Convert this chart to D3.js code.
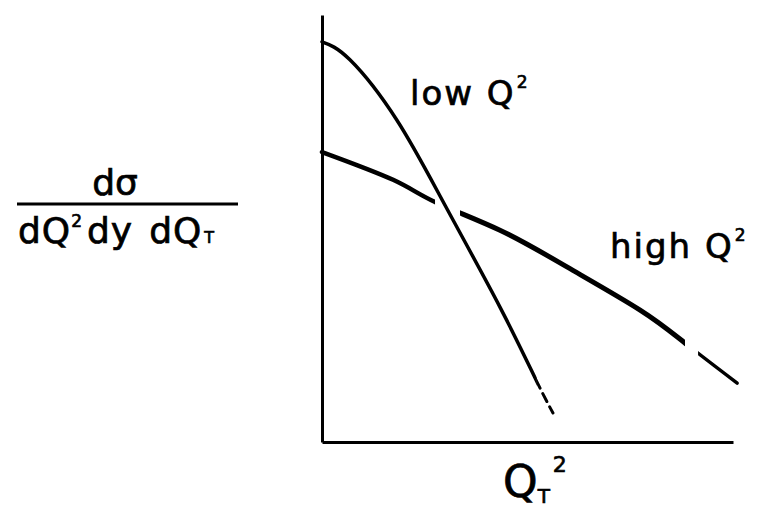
<!DOCTYPE html>
<html>
<head>
<meta charset="utf-8">
<script src="https://cdn.jsdelivr.net/npm/d3@7"></script>
<style>
  html, body { margin: 0; padding: 0; background: #fff; }
  svg text { font-family: "DejaVu Sans", sans-serif; fill: #000; stroke: #000; stroke-width: 0.7px; }
</style>
</head>
<body>
<svg id="chart" width="761" height="511"></svg>
<script>
// Sketch of the Q_T^2 distribution at low and high Q^2 (arbitrary units, 0..10 on both axes)
const lowCurve = [[0, 9.37], [0.68, 8.95], [1.82, 7.54], [2.99, 5.55], [4.33, 3.16], [5.23, 1.41], [5.62, 0.68]];
const highCurve = [[0, 6.79], [1.73, 6.14], [2.75, 5.62], [4.33, 4.96], [5.96, 4.10], [7.74, 3.09], [8.83, 2.32], [10.1, 1.38]];

// Pieces of each curve along the x range: [from, to, stroke width, dash]
const lowPieces = [[-0.2, 5.23, 3.5, null], [5.23, 5.8, 3, "9,6"]];
const highPieces = [[-0.2, 2.75, 4.5, null], [3.36, 8.83, 5, null], [9.15, 10.3, 3.5, null]];

const lowLabel = "low Q";
const highLabel = "high Q";
const xLabel = "Q";
const yNumerator = "dσ";

const svg = d3.select("#chart");
const x = d3.scaleLinear().domain([0, 10]).range([322, 733]);
const y = d3.scaleLinear().domain([0, 10]).range([442, 15]);

// Axes: plain lines, no ticks
const xAxis = d3.axisBottom(x).tickValues([]).tickSizeOuter(0);
const yAxis = d3.axisLeft(y).tickValues([]).tickSizeOuter(0);
svg.append("g").attr("transform", `translate(0,${y(0)})`).call(xAxis)
  .select(".domain").attr("stroke", "#000").attr("stroke-width", 3);
svg.append("g").attr("transform", `translate(${x(0)},0)`).call(yAxis)
  .select(".domain").attr("stroke", "#000").attr("stroke-width", 3);

const line = d3.line().x(d => x(d[0])).y(d => y(d[1])).curve(d3.curveNatural);
const defs = svg.append("defs");
let clipId = 0;

function drawPieces(data, pieces) {
  pieces.forEach(([from, to, width, dash]) => {
    const id = "piece" + (clipId++);
    defs.append("clipPath").attr("id", id).append("rect")
      .attr("x", x(from)).attr("width", x(to) - x(from))
      .attr("y", 0).attr("height", 511);
    svg.append("path").datum(data)
      .attr("clip-path", `url(#${id})`)
      .attr("d", line)
      .attr("fill", "none")
      .attr("stroke", "#000")
      .attr("stroke-width", width)
      .attr("stroke-linecap", "round")
      .attr("stroke-dasharray", dash);
  });
}

drawPieces(highCurve, highPieces);
drawPieces(lowCurve, lowPieces);

// Curve labels
function labelWithSup(px, py, main, sup, size) {
  const t = svg.append("text").attr("x", px).attr("y", py)
    .attr("font-size", size).attr("letter-spacing", 2);
  t.append("tspan").text(main);
  t.append("tspan").text(sup).attr("font-size", size * 0.5).attr("dy", -size * 0.5).attr("dx", 1);
  return t;
}
labelWithSup(410, 105, lowLabel, "2", 34);
labelWithSup(610, 258, highLabel, "2", 34);

// x-axis title Q_T^2
const xt = svg.append("text").attr("x", 503).attr("y", 497).attr("font-size", 44);
xt.append("tspan").text(xLabel);
xt.append("tspan").text("T").attr("font-size", 20).attr("dx", 0).attr("dy", 6);
xt.append("tspan").text("2").attr("font-size", 22).attr("dx", 3).attr("dy", -31);

// y-axis title as a fraction
svg.append("text").attr("x", 115).attr("y", 195).attr("font-size", 36)
  .attr("text-anchor", "middle").text(yNumerator);
svg.append("line").attr("x1", 17).attr("x2", 238).attr("y1", 204).attr("y2", 204)
  .attr("stroke", "#000").attr("stroke-width", 3);
const den = svg.append("text").attr("x", 18).attr("y", 243).attr("font-size", 36)
  .attr("letter-spacing", 1);
den.append("tspan").text("dQ");
den.append("tspan").text("2").attr("font-size", 17).attr("dy", -16);
den.append("tspan").text("dy").attr("dy", 16).attr("dx", 4);
den.append("tspan").text("dQ").attr("dx", 16);
den.append("tspan").text("T").attr("font-size", 16).attr("dx", 2);
</script>
</body>
</html>
